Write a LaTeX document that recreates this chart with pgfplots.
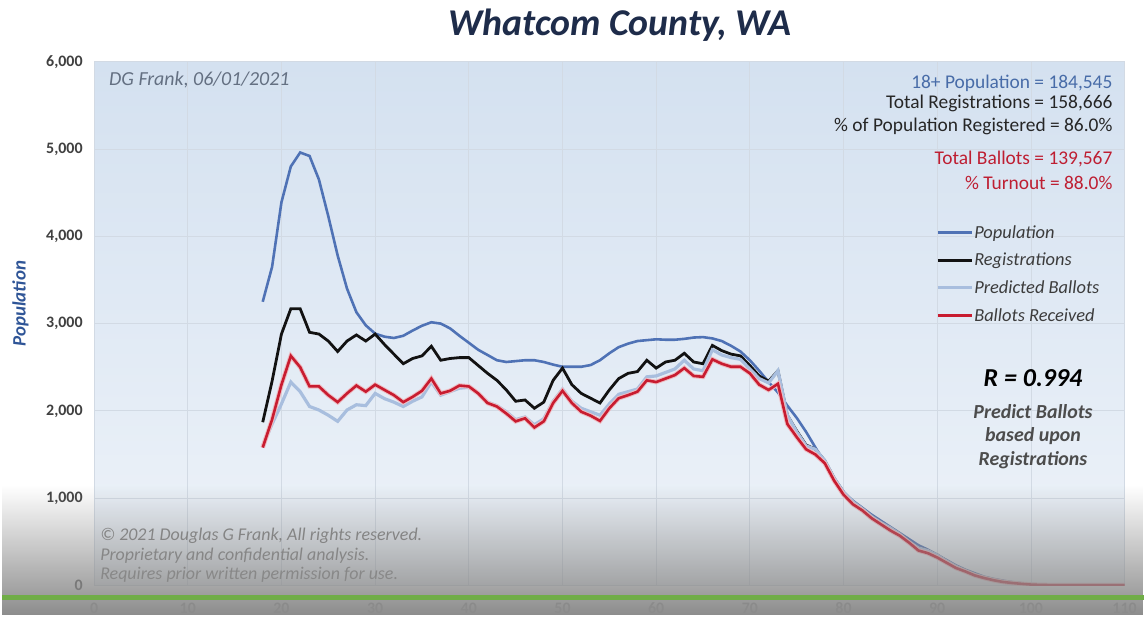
\documentclass[border=0pt]{standalone}
\usepackage{fontspec}
\setmainfont{Carlito}
\usepackage{pgfplots}
\pgfplotsset{compat=1.18}
\usepackage{pgfplotstable}
\usetikzlibrary{fadings}

\definecolor{popc}{RGB}{79,114,181}
\definecolor{regc}{RGB}{18,18,18}
\definecolor{predc}{RGB}{168,190,222}
\definecolor{ballc}{RGB}{200,28,48}
\definecolor{titlec}{RGB}{30,44,74}
\definecolor{ylabc}{RGB}{47,85,151}
\definecolor{statblue}{RGB}{72,108,168}
\definecolor{statred}{RGB}{190,30,50}
\definecolor{tickc}{RGB}{64,64,64}
\definecolor{legtext}{RGB}{60,60,60}
\definecolor{notec}{RGB}{100,112,130}
\definecolor{gridc}{RGB}{210,218,228}
\definecolor{bgtop}{RGB}{212,225,240}
\definecolor{bgbot}{RGB}{238,243,249}
\definecolor{greenc}{RGB}{112,173,71}

% age, population, registrations, predicted ballots, ballots received
\pgfplotstableread{
age pop reg pred ball
18 3250 1870 1600 1580
19 3650 2340 1850 1900
20 4390 2880 2080 2300
21 4800 3170 2330 2630
22 4960 3170 2220 2500
23 4920 2900 2050 2280
24 4650 2880 2010 2280
25 4230 2800 1950 2180
26 3780 2680 1880 2100
27 3400 2800 2010 2200
28 3130 2870 2070 2290
29 2980 2800 2060 2220
30 2885 2880 2200 2300
31 2850 2760 2140 2240
32 2835 2650 2100 2180
33 2860 2540 2050 2100
34 2920 2600 2110 2160
35 2975 2630 2160 2230
36 3015 2740 2330 2370
37 3000 2580 2180 2200
38 2945 2600 2220 2230
39 2860 2610 2260 2290
40 2780 2610 2270 2280
41 2700 2520 2200 2200
42 2640 2430 2100 2090
43 2580 2350 2060 2050
44 2560 2240 1990 1970
45 2570 2110 1900 1880
46 2580 2125 1930 1915
47 2580 2030 1840 1810
48 2560 2100 1910 1880
49 2530 2350 2110 2090
50 2505 2490 2250 2230
51 2505 2300 2110 2090
52 2505 2200 2030 1990
53 2525 2145 1990 1945
54 2580 2090 1950 1885
55 2660 2240 2080 2030
56 2730 2370 2190 2145
57 2770 2430 2220 2180
58 2800 2450 2250 2220
59 2810 2580 2390 2350
60 2820 2490 2400 2330
61 2815 2560 2440 2370
62 2815 2580 2480 2410
63 2825 2660 2580 2490
64 2840 2560 2480 2400
65 2845 2540 2460 2390
66 2830 2750 2700 2590
67 2800 2690 2640 2540
68 2745 2650 2610 2505
69 2680 2630 2590 2505
70 2580 2520 2480 2430
71 2460 2400 2370 2300
72 2330 2340 2320 2240
73 2210 2460 2460 2310
74 2060 1950 1950 1850
75 1920 1770 1760 1700
76 1760 1610 1600 1560
77 1580 1560 1560 1500
78 1400 1430 1430 1400
79 1220 1230 1230 1200
80 1060 1070 1070 1040
81 970 960 960 930
82 890 880 880 860
83 810 790 790 770
84 740 720 720 700
85 670 660 660 630
86 600 590 590 570
87 530 500 500 490
88 460 430 430 400
89 410 400 400 370
90 350 350 350 320
91 290 280 280 260
92 230 220 220 200
93 180 170 170 160
94 140 125 125 115
95 100 90 90 85
96 75 65 65 60
97 55 45 45 40
98 38 30 30 28
99 25 20 20 18
100 15 12 12 10
101 10 8 8 6
102 6 5 5 4
103 4 3 3 3
104 3 2 2 2
105 2 2 2 2
106 2 2 2 2
107 2 2 2 2
108 2 2 2 2
109 2 2 2 2
110 2 2 2 2
}\whatcom

\begin{document}
\begin{tikzpicture}
% full page, 1146 x 618
\fill[white] (-92pt,-30pt) rectangle (1054pt,588pt);
\begin{axis}[
  scale only axis, width=1035pt, height=526pt,
  xmin=0, xmax=110, ymin=0, ymax=6000,
  xtick={0,10,...,110}, ytick={0,1000,...,6000},
  axis line style={draw=none},
  major tick length=0pt,
  grid=major, grid style={line width=0.8pt, gridc},
  axis background/.style={shade, top color=bgtop, bottom color=bgbot},
  scaled y ticks=false,
  /pgf/number format/1000 sep={,},
  /pgf/number format/assume math mode=true,
  yticklabel style={font=\fontsize{16}{18}\selectfont\bfseries, text=tickc, xshift=-8pt},
  xticklabel style={font=\fontsize{16}{18}\selectfont\bfseries, text=black!50, yshift=-14pt},
  legend style={draw=none, fill=none, at={(0.817,0.688)}, anchor=north west,
    font=\fontsize{18.5}{20}\selectfont\itshape, text=legtext, row sep=13.5pt,
    inner sep=0pt, nodes={inner xsep=1pt, inner ysep=0pt}},
  legend cell align=left,
  legend image code/.code={\draw[#1] (0pt,0pt) -- (34pt,0pt);},
]
\addplot[popc, line width=2.6pt] table[x=age, y=pop] {\whatcom};
\addlegendentry{Population}
\addplot[regc, line width=2.8pt] table[x=age, y=reg] {\whatcom};
\addlegendentry{Registrations}
\addplot[predc, line width=3.2pt] table[x=age, y=pred] {\whatcom};
\addlegendentry{Predicted Ballots}
\addplot[ballc!30, line width=4.6pt, forget plot] table[x=age, y=ball] {\whatcom};
\addplot[ballc, line width=2.6pt] table[x=age, y=ball] {\whatcom};
\addlegendentry{Ballots Received}
\end{axis}

% title and axis label
\node[font=\fontsize{38}{40}\selectfont\bfseries\itshape, text=titlec] at (528pt,563pt) {Whatcom County, WA};
\node[rotate=90, font=\fontsize{19}{20}\selectfont\bfseries\itshape, text=ylabc] at (-74pt,283pt) {Population};

% notes inside the plot
\node[anchor=west, inner sep=0pt, font=\fontsize{20}{22}\selectfont\itshape, text=notec] at (15pt,508pt) {DG Frank, 06/01/2021};
\begin{scope}[every node/.style={anchor=east, inner sep=0pt, font=\fontsize{19.5}{21}\selectfont}]
\node[text=statblue] at (1023pt,504pt) {18+ Population = 184,545};
\node[text=black!85] at (1023pt,484pt) {Total Registrations = 158,666};
\node[text=black!85] at (1023pt,461pt) {\% of Population Registered = 86.0\%};
\node[text=statred] at (1023pt,428pt) {Total Ballots = 139,567};
\node[text=statred] at (1023pt,404pt) {\% Turnout = 88.0\%};
\end{scope}
\node[font=\fontsize{26}{28}\selectfont\bfseries\itshape, text=black] at (943pt,208pt) {R = 0.994};
\begin{scope}[every node/.style={font=\fontsize{20}{22}\selectfont\bfseries\itshape, text=black!70, inner sep=0pt}]
\node at (943pt,175pt) {Predict Ballots};
\node at (943pt,150pt) {based upon};
\node at (943pt,126pt) {Registrations};
\end{scope}
\begin{scope}[every node/.style={anchor=west, inner sep=0pt, font=\fontsize{18}{20}\selectfont\itshape, text=black!50}]
\node at (6pt,50pt) {\char"00A9\ 2021 Douglas G Frank, All rights reserved.};
\node at (6pt,30pt) {Proprietary and confidential analysis.};
\node at (6pt,11pt) {Requires prior written permission for use.};
\end{scope}

% grey band at the bottom of the frame
\fill[black!45, path fading=north] (-92pt,-30pt) rectangle (1054pt,100pt);
\draw[greenc, line width=5pt] (-92pt,-12pt) -- (1054pt,-12pt);
\end{tikzpicture}
\end{document}
